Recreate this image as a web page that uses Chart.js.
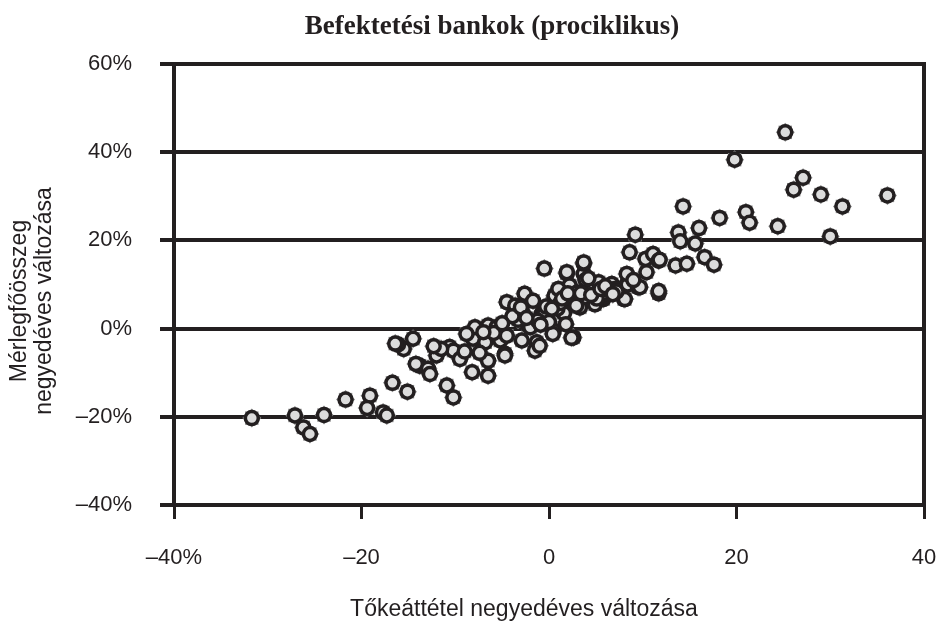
<!DOCTYPE html>
<html>
<head>
<meta charset="utf-8">
<script src="https://cdn.jsdelivr.net/npm/chart.js@4.4.1/dist/chart.umd.min.js"></script>
<style>
html,body{margin:0;padding:0;background:#fff;}
#wrap{width:940px;height:632px;position:relative;}
</style>
</head>
<body>
<div id="wrap"><canvas id="c" width="940" height="632"></canvas></div>
<script>
const chartTitle = "Befektetési bankok (prociklikus)";
const xAxisTitle = "Tőkeáttétel negyedéves változása";
const yAxisTitleLines = ["Mérlegfőösszeg", "negyedéves változása"];

const yTickValues = [-40, -20, 0, 20, 40, 60];
const yTickLabels = ["–40%", "–20%", "0%", "20%", "40%", "60%"];
const xTickValues = [-40, -20, 0, 20, 40];
const xTickLabels = ["–40%", "–20", "0", "20", "40"];

// Leverage quarterly change (%)
const leverageChange = [
  -31.7, -27.1, -26.2, -25.5, -24.0, -21.7, -19.1, -19.4, -17.7, -17.3,
  -16.7, -15.1, -15.5, -16.1, -14.5, -13.8, -14.2, -12.9, -12.7, -12.0,
  -10.9, -10.2, -10.6, -10.2, -9.5, -8.1, -7.9, -8.2, -6.5, -6.8,
  -6.5, -6.5, -5.6, -5.2, -4.7, -4.7, -4.5, -4.5, -2.6, -1.7,
  -2.9, -2.2, -2.0, -2.9, -1.3, -1.5, -1.0, -0.8, -0.6, -0.5,
  0.5, 0.4, 0.6, 0.6, 1.5, 1.6, 2.6, 2.4, 2.6, 1.9,
  1.9, 2.2, 2.2, 3.3, 3.7, 3.7, 3.7, 4.0, 4.4, 4.7,
  5.3, 5.8, 5.8, 5.8, 6.7, 8.0, 8.1, 8.3, 8.4, 8.3,
  8.6, 9.2, 9.5, 9.7, 10.3, 10.4, 11.1, 11.7, 11.7, 11.7,
  11.8, 13.5, 13.8, 14.0, 14.3, 14.7, 15.6, 16.0, 16.6, 17.6,
  18.2, 19.8, 21.0, 21.4, 24.4, 25.2, 26.1, 27.1, 29.0, 30.0,
  31.3, 36.1,
  -3.6, -3.3, -1.2, 0.9, 1.2, 3.0, 4.9, 6.3, -7.4, -9.0,
  -5.9, -3.9, 0.0, 2.9, 5.1, 7.0, -11.5, -8.8, 1.0, 3.9,
  -3.0, -0.3, 1.4, 2.0, 3.4, 4.5, 5.5, 6.0, 7.2, 9.0,
  -7.0, -5.0, -2.4, -0.9, 0.3, 1.8, 4.2, 6.8, -12.3, -16.4
];
// Total assets quarterly change (%)
const assetsChange = [
  -20.3, -19.7, -22.4, -23.9, -19.6, -16.1, -15.2, -18.0, -19.0, -19.7,
  -12.3, -14.3, -4.6, -3.6, -2.3, -8.4, -8.0, -9.1, -10.3, -6.1,
  -12.9, -15.6, -4.2, -5.0, -6.9, -2.3, 0.3, -9.9, 0.7, -3.1,
  -7.3, -10.7, 0.3, -2.7, -5.7, -6.1, -1.6, 6.0, 7.9, 6.3,
  4.1, 0.7, 0.3, -2.7, -3.1, -5.0, -3.9, 3.3, 2.9, 13.6,
  -0.5, -1.2, 7.1, 7.5, 3.7, 3.5, -2.0, -2.1, 6.3, 12.5,
  12.8, 9.4, 9.8, 4.8, 12.4, 14.7, 15.0, 7.1, 9.4, 9.4,
  10.5, 6.7, 7.3, 7.9, 10.1, 6.7, 6.7, 10.1, 10.0, 12.4,
  17.3, 21.3, 9.4, 9.4, 15.8, 12.8, 16.9, 8.0, 8.5, 15.4,
  15.6, 14.3, 21.8, 19.8, 27.7, 14.7, 19.3, 22.8, 16.2, 14.5,
  25.1, 38.3, 26.4, 24.0, 23.2, 44.5, 31.5, 34.2, 30.4, 20.9,
  27.7, 30.2,
  5.2, 2.0, 1.8, 4.5, 5.8, 8.2, 5.5, 8.8, -5.5, -5.2,
  -1.0, 2.8, 1.5, 5.2, 6.8, 9.0, -4.6, -1.2, 9.0, 11.0,
  4.8, 5.0, 6.8, 8.0, 8.0, 7.6, 9.0, 9.6, 8.4, 11.0,
  -0.8, 1.2, 2.4, 0.9, 4.5, 1.0, 11.4, 7.8, -4.0, -3.4
];

const points = leverageChange.map((x, i) => ({ x: x, y: assetsChange[i] }));

const ink = '#231f20';

const decor = {
  id: 'decor',
  afterDraw(chart) {
    const ctx = chart.ctx;
    const a = chart.chartArea;
    ctx.save();
    ctx.strokeStyle = ink;
    ctx.lineWidth = 4;
    ctx.strokeRect(a.left, a.top, a.right - a.left, a.bottom - a.top);
    ctx.fillStyle = ink;
    ctx.textAlign = 'center';
    ctx.textBaseline = 'middle';
    ctx.font = 'bold 27px "Liberation Serif", "Times New Roman", serif';
    ctx.fillText(chartTitle, 492, 27);
    ctx.font = '23px "Liberation Sans", Arial, sans-serif';
    ctx.fillText(xAxisTitle, 524, 610);
    ctx.save();
    ctx.translate(20, 301);
    ctx.rotate(-Math.PI / 2);
    ctx.fillText(yAxisTitleLines[0], 0, 0);
    ctx.restore();
    ctx.save();
    ctx.translate(45, 301);
    ctx.rotate(-Math.PI / 2);
    ctx.fillText(yAxisTitleLines[1], 0, 0);
    ctx.restore();
    ctx.restore();
  }
};

new Chart(document.getElementById('c'), {
  type: 'scatter',
  data: {
    datasets: [
      {
        data: points,
        pointStyle: 'circle',
        pointRadius: 6.5,
        pointHoverRadius: 6.5,
        backgroundColor: '#dcdcdc',
        borderColor: ink,
        pointBorderWidth: 3.5,
        order: 1
      },
      {
        data: points,
        pointStyle: 'rectRot',
        pointRadius: 9.5,
        pointHoverRadius: 9.5,
        backgroundColor: '#8a8a8a',
        borderWidth: 0,
        pointBorderWidth: 0,
        order: 2
      },
      {
        data: points,
        pointStyle: 'rect',
        pointRadius: 9.5,
        pointHoverRadius: 9.5,
        backgroundColor: '#8a8a8a',
        borderWidth: 0,
        pointBorderWidth: 0,
        order: 3
      }
    ]
  },
  options: {
    responsive: false,
    animation: false,
    events: [],
    layout: { padding: { top: 64, right: 16, left: 0, bottom: 0 } },
    plugins: {
      legend: { display: false },
      tooltip: { enabled: false },
      title: { display: false }
    },
    scales: {
      x: {
        type: 'linear',
        min: -40,
        max: 40,
        afterFit(scale) { scale.height = 127; scale.paddingLeft = 0; scale.paddingRight = 0; },
        afterBuildTicks(scale) { scale.ticks = xTickValues.map(v => ({ value: v })); },
        ticks: {
          callback: (v) => xTickLabels[xTickValues.indexOf(v)],
          color: ink,
          font: { family: '"Liberation Sans", Arial, sans-serif', size: 22 },
          padding: 26,
          maxRotation: 0,
          autoSkip: false
        },
        grid: {
          drawOnChartArea: false,
          drawTicks: true,
          tickLength: 14,
          color: ink,
          lineWidth: 3
        },
        border: { display: true, color: ink, width: 4 }
      },
      y: {
        type: 'linear',
        min: -40,
        max: 60,
        afterFit(scale) { scale.width = 174; scale.paddingTop = 0; scale.paddingBottom = 0; },
        afterBuildTicks(scale) { scale.ticks = yTickValues.map(v => ({ value: v })); },
        ticks: {
          callback: (v) => yTickLabels[yTickValues.indexOf(v)],
          color: ink,
          font: { family: '"Liberation Sans", Arial, sans-serif', size: 22 },
          padding: 28,
          autoSkip: false
        },
        grid: {
          drawOnChartArea: true,
          drawTicks: true,
          tickLength: 14,
          color: ink,
          lineWidth: 4
        },
        border: { display: true, color: ink, width: 4 }
      }
    }
  },
  plugins: [decor]
});
</script>
</body>
</html>
